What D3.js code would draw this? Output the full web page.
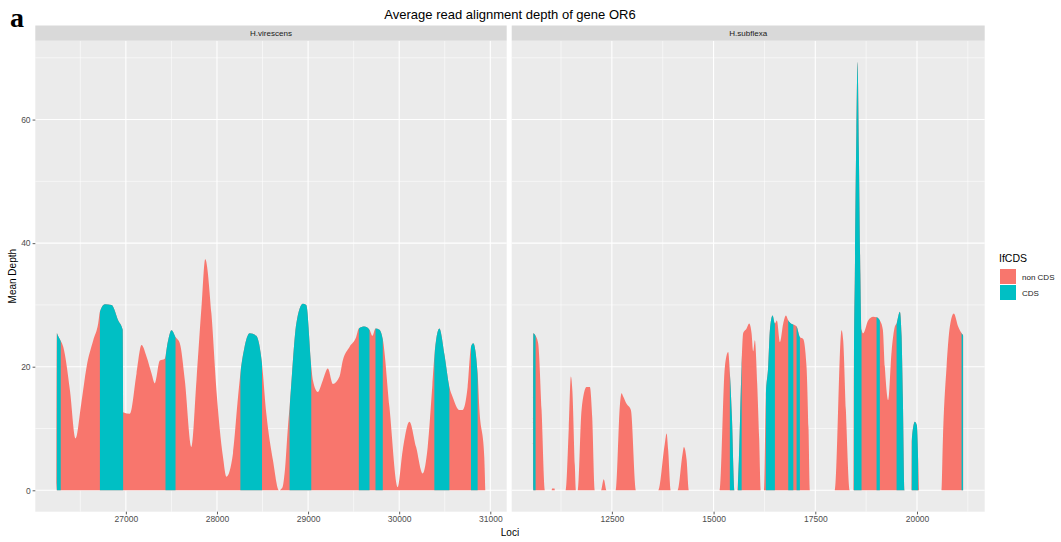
<!DOCTYPE html>
<html>
<head>
<meta charset="utf-8">
<script src="https://cdn.jsdelivr.net/npm/d3@7"></script>
<style>
  body { margin: 0; background: #ffffff; }
  svg { display: block; font-family: "Liberation Sans", Arial, sans-serif; }
</style>
</head>
<body>
<svg id="chart" width="1061" height="542"></svg>
<script>
// ---- data: mean read depth along the OR6 locus in two species ----
const panelNames = ["H.virescens", "H.subflexa"];

const virescensLoci = [
  26241, 26242, 26255, 26284, 26313, 26386, 26449, 26510, 26569, 26642, 26696, 26715, 26770, 26843,
  26916, 26965, 26975, 27044, 27117, 27172, 27227, 27282, 27318, 27373, 27427, 27460, 27501, 27545,
  27592, 27647, 27720, 27775, 27830, 27871, 27939, 27994, 28066, 28104, 28176, 28231, 28257, 28300,
  28359, 28432, 28494, 28542, 28614, 28680, 28720, 28742, 28779, 28797, 28871, 28943, 28980, 29035,
  29053, 29107, 29162, 29217, 29272, 29345, 29381, 29455, 29528, 29557, 29619, 29674, 29707, 29740,
  29783, 29820, 29893, 29984, 30039, 30112, 30186, 30258, 30313, 30364, 30386, 30441, 30496, 30551,
  30587, 30660, 30697, 30751, 30788, 30813, 30861, 30879, 30934, 30945
];
const virescensDepth = [
  0, 25.4, 25.0, 24.2, 23.2, 16.2, 8.4, 14.0, 20.0, 24.3, 27.0, 28.9, 30.1, 30.0,
  27.5, 26.0, 12.6, 12.4, 18.9, 23.5, 21.6, 18.9, 17.3, 21.0, 21.3, 24.0, 25.9, 24.8,
  23.8, 17.8, 7.0, 17.8, 29.7, 37.4, 28.6, 16.2, 5.4, 2.2, 6.0, 15.1, 18.9, 23.0,
  25.4, 25.0, 20.5, 12.4, 4.9, 0, 0.5, 2.7, 10.3, 13.5, 27.0, 30.2, 30.0, 20.0,
  17.8, 15.9, 17.8, 19.7, 17.2, 18.4, 21.0, 23.2, 24.8, 26.2, 26.5, 26.0, 25.0, 26.2,
  26.0, 24.5, 13.5, 0.5, 6.5, 11.1, 7.0, 2.7, 7.0, 17.0, 21.6, 26.2, 22.0, 16.7,
  15.1, 13.0, 13.0, 16.7, 23.2, 23.8, 19.0, 13.5, 5.4, 0
];
const virescensCdsStart = [26241, 26715, 27435, 28257, 28797, 29557, 29740, 30386, 30788];
const virescensCdsEnd   = [26285, 26970, 27545, 28494, 29035, 29674, 29820, 30551, 30861];

const subflexaLoci = [
  10566, 10567, 10625, 10688, 10772, 10853, 11018, 11030, 11090, 11099, 11362, 11440, 11492, 11530,
  11590, 11615, 11657, 11755, 11878, 11959, 12016, 12082, 12230, 12300, 12370, 12591, 12700, 12738,
  12778, 12861, 12967, 13090, 13638, 13800, 13845, 13884, 13950, 14115, 14240, 14270, 14336, 14393,
  15155, 15278, 15359, 15400, 15450, 15516, 15580, 15622, 15688, 15727, 15811, 15875, 15934, 15973,
  16015, 16072, 16121, 16162, 16244, 16285, 16342, 16384, 16450, 16507, 16556, 16630, 16712, 16778,
  16835, 16902, 16975, 17040, 17121, 17203, 17285, 17334, 17367, 17981, 18146, 18186, 18252, 18350,
  18448, 18449, 18473, 18510, 18539, 18571, 18608, 18637, 18677, 18800, 18923, 19006, 19087, 19161,
  19210, 19292, 19375, 19456, 19498, 19579, 19621, 19653, 19702, 19867, 19870, 19948, 19997, 20029,
  20054, 20604, 20636, 20727, 20808, 20906, 21012, 21096, 21135, 21136
];
const subflexaDepth = [
  0, 25.4, 25.0, 23.8, 13.0, 0, 0, 0.3, 0.3, 0, 0, 10.0, 18.4, 16.0,
  4.0, 0, 0, 13.0, 16.7, 16.7, 11.9, 0, 0, 1.8, 0, 0, 14.0, 15.7,
  15.2, 14.0, 13.0, 0, 0, 7.5, 9.2, 6.5, 0, 0, 6.0, 7.0, 5.0, 0,
  0, 20.0, 22.4, 19.0, 12.0, 0, 0, 5.0, 20.0, 25.4, 26.2, 27.0, 25.4, 22.5,
  24.3, 17.3, 8.4, 0, 0, 15.0, 20.0, 25.9, 28.3, 27.0, 27.5, 24.0, 27.0, 28.3,
  27.5, 27.0, 26.8, 26.5, 24.8, 24.5, 20.0, 10.0, 0, 0, 25.9, 24.3, 13.0, 0,
  0, 20.0, 35.0, 58.0, 69.3, 55.0, 35.0, 26.0, 25.4, 27.5, 28.1, 28.0, 27.5, 26.0,
  20.0, 14.6, 22.4, 26.5, 27.0, 28.9, 25.0, 15.0, 0, 0, 8.0, 11.1, 10.5, 5.0,
  0, 0, 8.0, 20.0, 26.5, 28.6, 26.5, 25.4, 25.0, 0
];
const subflexaCdsStart = [10566, 15400, 15600, 16285, 16835, 17040, 18448, 19006, 19498, 19867, 21096];
const subflexaCdsEnd   = [10625, 15516, 15690, 16507, 16960, 17121, 18637, 19087, 19702, 20029, 21136];

const virescensTicks = [27000, 28000, 29000, 30000, 31000];
const subflexaTicks = [12500, 15000, 17500, 20000];
const depthTicks = [0, 20, 40, 60];
const legendTitle = "IfCDS";
const legendLabels = ["non CDS", "CDS"];
const fillColors = ["#F8766D", "#00BFC4"];

// ---- layout ----
const svg = d3.select("#chart");
const panelTop = 40.7, panelBottom = 511.7, stripTop = 25.5;
const panelBounds = [[35.3, 506.7], [511.7, 984.7]];

const expand = (ext, m = 0.05) => { const d = ext[1] - ext[0]; return [ext[0] - d * m, ext[1] + d * m]; };

const maxDepth = d3.max(virescensDepth.concat(subflexaDepth));
const y = d3.scaleLinear().domain(expand([0, maxDepth])).range([panelBottom, panelTop]);

const panels = [
  { name: panelNames[0], loci: virescensLoci, depth: virescensDepth,
    cdsStart: virescensCdsStart, cdsEnd: virescensCdsEnd, ticks: virescensTicks },
  { name: panelNames[1], loci: subflexaLoci, depth: subflexaDepth,
    cdsStart: subflexaCdsStart, cdsEnd: subflexaCdsEnd, ticks: subflexaTicks }
];

const defs = svg.append("defs");

panels.forEach((p, i) => {
  const [px0, px1] = panelBounds[i];
  const x = d3.scaleLinear().domain(expand(d3.extent(p.loci))).range([px0, px1]);
  const g = svg.append("g");

  // panel background
  g.append("rect").attr("x", px0).attr("y", panelTop)
    .attr("width", px1 - px0).attr("height", panelBottom - panelTop).attr("fill", "#EBEBEB");

  // minor grid: midpoints between major breaks, extended half a step past each end
  const step = p.ticks[1] - p.ticks[0];
  const dom = x.domain();
  const xMinor = [];
  for (let v = p.ticks[0] - step / 2; v <= dom[1]; v += step) if (v >= dom[0]) xMinor.push(v);
  const yMinor = [10, 30, 50, 70].filter(v => v <= y.domain()[1]);

  g.selectAll(".xminor").data(xMinor).join("line")
    .attr("x1", d => x(d)).attr("x2", d => x(d)).attr("y1", panelTop).attr("y2", panelBottom)
    .attr("stroke", "#ffffff").attr("stroke-width", 0.55);
  g.selectAll(".yminor").data(yMinor).join("line")
    .attr("x1", px0).attr("x2", px1).attr("y1", d => y(d)).attr("y2", d => y(d))
    .attr("stroke", "#ffffff").attr("stroke-width", 0.55);
  g.selectAll(".xmajor").data(p.ticks).join("line")
    .attr("x1", d => x(d)).attr("x2", d => x(d)).attr("y1", panelTop).attr("y2", panelBottom)
    .attr("stroke", "#ffffff").attr("stroke-width", 1.1);
  g.selectAll(".ymajor").data(depthTicks).join("line")
    .attr("x1", px0).attr("x2", px1).attr("y1", d => y(d)).attr("y2", d => y(d))
    .attr("stroke", "#ffffff").attr("stroke-width", 1.1);

  // depth profile
  const pts = p.loci.map((l, k) => ({ locus: l, depth: p.depth[k] }));
  const area = d3.area().curve(d3.curveMonotoneX)
    .x(d => x(d.locus)).y0(y(0)).y1(d => y(d.depth));

  g.append("path").datum(pts).attr("d", area).attr("fill", fillColors[0]);

  // CDS stretches drawn in the second colour, clipped to their loci
  const clipId = "cds-clip-" + i;
  defs.append("clipPath").attr("id", clipId)
    .selectAll("rect").data(p.cdsStart.map((s, k) => [s, p.cdsEnd[k]])).join("rect")
    .attr("x", d => x(d[0])).attr("width", d => Math.max(0.8, x(d[1]) - x(d[0])))
    .attr("y", panelTop).attr("height", panelBottom - panelTop);
  g.append("path").datum(pts).attr("d", area).attr("fill", fillColors[1])
    .attr("clip-path", `url(#${clipId})`);

  // strip
  g.append("rect").attr("x", px0).attr("y", stripTop)
    .attr("width", px1 - px0).attr("height", panelTop - stripTop).attr("fill", "#D9D9D9");
  g.append("text").attr("x", (px0 + px1) / 2).attr("y", (stripTop + panelTop) / 2 + 3)
    .attr("text-anchor", "middle").attr("font-size", 8).attr("fill", "#1A1A1A").text(p.name);

  // x axis
  const ax = g.append("g").attr("transform", `translate(0,${panelBottom})`)
    .call(d3.axisBottom(x).tickValues(p.ticks).tickFormat(d3.format("d")).tickSize(2.7).tickPadding(2));
  ax.attr("font-family", null).attr("font-size", null);
  ax.select(".domain").remove();
  ax.selectAll(".tick line").attr("stroke", "#333333").attr("stroke-width", 0.8);
  ax.selectAll(".tick text").attr("fill", "#4D4D4D").style("font-size", "8.5px");
});

// y axis (shared, on the first panel)
const ay = svg.append("g").attr("transform", `translate(${panelBounds[0][0]},0)`)
  .call(d3.axisLeft(y).tickValues(depthTicks).tickFormat(d3.format("d")).tickSize(2.7).tickPadding(2));
ay.attr("font-family", null).attr("font-size", null);
ay.select(".domain").remove();
ay.selectAll(".tick line").attr("stroke", "#333333").attr("stroke-width", 0.8);
ay.selectAll(".tick text").attr("fill", "#4D4D4D").style("font-size", "8.5px");

// titles
const plotCenter = (panelBounds[0][0] + panelBounds[1][1]) / 2;
svg.append("text").attr("x", plotCenter).attr("y", 18.5).attr("text-anchor", "middle")
  .style("font-size", "13px").attr("fill", "#000000").text("Average read alignment depth of gene OR6");
svg.append("text").attr("x", plotCenter).attr("y", 536).attr("text-anchor", "middle")
  .style("font-size", "10px").attr("fill", "#000000").text("Loci");
svg.append("text").attr("transform", `translate(15.5,${(panelTop + panelBottom) / 2}) rotate(-90)`)
  .attr("text-anchor", "middle").style("font-size", "10px").attr("fill", "#000000").text("Mean Depth");
svg.append("text").attr("x", 10).attr("y", 27)
  .style("font-family", "'Liberation Serif', 'Times New Roman', serif")
  .style("font-weight", "bold").style("font-size", "28px").attr("fill", "#000000").text("a");

// legend
const lg = svg.append("g").attr("transform", "translate(1000,0)");
lg.append("text").attr("x", -1).attr("y", 262).style("font-size", "10.5px").attr("fill", "#000000").text(legendTitle);
lg.selectAll(".key").data(legendLabels).join("rect")
  .attr("x", 0).attr("y", (d, k) => 269 + k * 16).attr("width", 16).attr("height", 15)
  .attr("fill", (d, k) => fillColors[k]);
lg.selectAll(".lab").data(legendLabels).join("text")
  .attr("x", 22).attr("y", (d, k) => 279.5 + k * 16).style("font-size", "8px").attr("fill", "#1A1A1A")
  .text(d => d);
</script>
</body>
</html>
